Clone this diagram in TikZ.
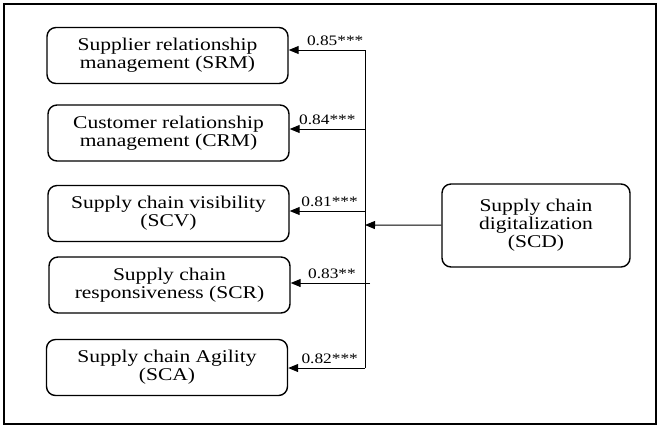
\documentclass[tikz,border=0pt]{standalone}
\usepackage{fontspec}
\setmainfont{Liberation Serif}[FakeStretch=1.2]
\usetikzlibrary{arrows.meta}

\begin{document}
\begin{tikzpicture}[x=1bp,y=-1bp,
  construct/.style={draw,line width=1.4pt,rounded corners=9bp,align=center,
    minimum width=241bp,minimum height=56bp,inner sep=2bp,
    font=\fontsize{18}{18}\selectfont},
  loading/.style={-{Triangle[length=10bp,width=8bp]},line width=1pt},
  coef/.style={font=\fontsize{14.5}{15}\selectfont,inner sep=1bp,above=3bp}]

% Fix the frame
\useasboundingbox (0,0) rectangle (659,428);
\draw[line width=1.6pt] (4,4) rectangle (656,424);

% Draw the dimensions
\node[construct] (srm) at (167.5,55.5) {Supplier relationship\\management (SRM)};
\node[construct] (crm) at (168.5,133) {Customer relationship\\management (CRM)};
\node[construct] (scv) at (168.5,213.5) {Supply chain visibility\\(SCV)};
\node[construct] (scr) at (169.5,285) {Supply chain\\responsiveness (SCR)};
\node[construct] (sca) at (167,367.5) {Supply chain Agility\\(SCA)};

% Draw the second-order construct
\node[construct,minimum width=188bp,minimum height=83bp] (scd) at (536,225.5)
  {Supply chain\\digitalization\\(SCD)};

% Draw the bus line
\coordinate (top) at (365,50);
\coordinate (bot) at (365,368);
\coordinate (hub) at (365,225);
\draw[line width=1pt] (top) -- (bot);
\draw[loading] (scd) -- (hub);

% Draw and label the loadings
\coordinate (b2) at (365,129);
\coordinate (b3) at (365,211);
\coordinate (b4) at (370,283);
\draw[loading] (top) -- node[coef,pos=0.39] {0.85***} (top -| srm.east);
\draw[loading] (b2) -- node[coef,pos=0.5] {0.84***} (b2 -| crm.east);
\draw[loading] (b3) -- node[coef,pos=0.47] {0.81***} (b3 -| scv.east);
\draw[loading] (b4) -- node[coef,pos=0.48] {0.83**} (b4 -| scr.east);
\draw[loading] (bot) -- node[coef,pos=0.46] {0.82***} (bot -| sca.east);

\end{tikzpicture}
\end{document}
